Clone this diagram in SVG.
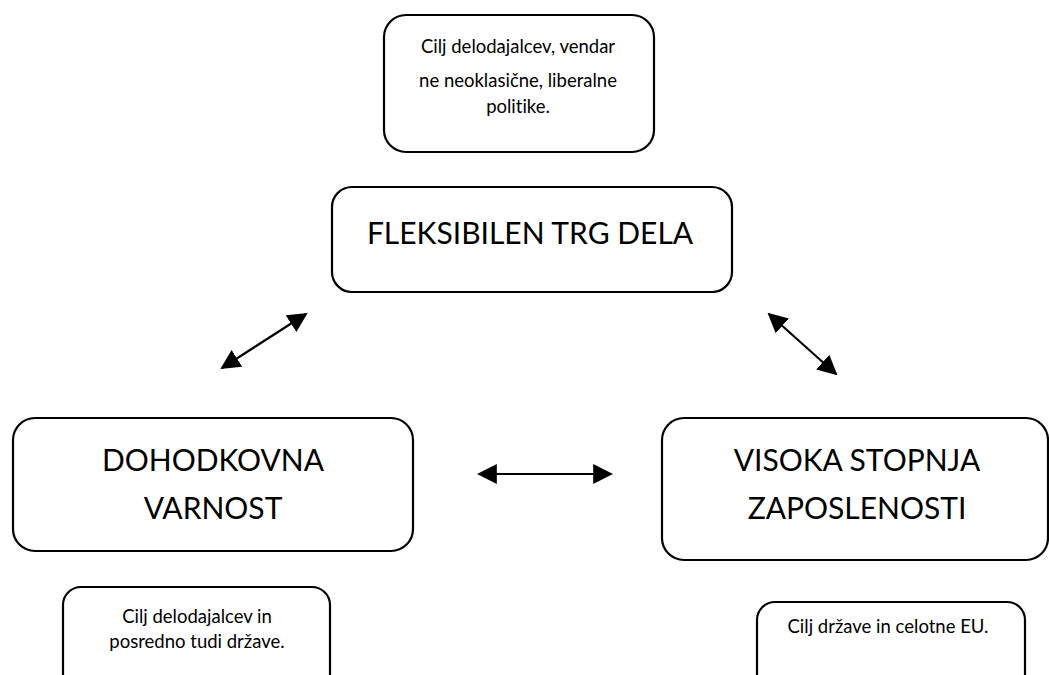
<svg xmlns="http://www.w3.org/2000/svg" width="1049" height="675" viewBox="0 0 1049 675">
<defs>
<style>
.box{fill:#fff;stroke:#000;stroke-width:2.2}
.big{font-family:Lato,"Liberation Sans",sans-serif;font-size:30px;fill:#000;text-anchor:middle;font-variant-ligatures:none}
.small{font-family:Lato,"Liberation Sans",sans-serif;font-size:18.5px;fill:#000;text-anchor:middle;font-variant-ligatures:none}
.conn{stroke:#000;stroke-width:2.2;fill:none;marker-start:url(#ah);marker-end:url(#ah)}
</style>
<marker id="ah" viewBox="0 0 10 10" refX="9" refY="5" markerWidth="9" markerHeight="9" markerUnits="strokeWidth" orient="auto-start-reverse">
<path d="M0,0 L10,5 L0,10 Z" fill="#000"/>
</marker>
</defs>
<rect width="1049" height="675" fill="#fff"/>
<g id="note-top">
<rect class="box" x="384" y="15" width="270" height="137" rx="22"/>
<text class="small" x="518" y="53">Cilj delodajalcev, vendar</text>
<text class="small" x="518" y="87">ne neoklasične, liberalne</text>
<text class="small" x="518" y="113">politike.</text>
</g>
<g id="node-trg">
<rect class="box" x="332" y="187" width="400" height="105" rx="20"/>
<text class="big" x="530" y="244">FLEKSIBILEN TRG DELA</text>
</g>
<g id="node-dohodkovna">
<rect class="box" x="13" y="418" width="400" height="133" rx="22"/>
<text class="big" x="213" y="471">DOHODKOVNA</text>
<text class="big" x="213" y="519">VARNOST</text>
</g>
<g id="node-zaposlenost">
<rect class="box" x="662" y="418" width="386" height="142" rx="22"/>
<text class="big" x="857" y="471">VISOKA STOPNJA</text>
<text class="big" x="857" y="519">ZAPOSLENOSTI</text>
</g>
<g id="note-left">
<rect class="box" x="63" y="587" width="267" height="110" rx="18"/>
<text class="small" x="197" y="623">Cilj delodajalcev in</text>
<text class="small" x="197" y="648">posredno tudi države.</text>
</g>
<g id="note-right">
<rect class="box" x="757" y="602" width="268" height="100" rx="18"/>
<text class="small" x="888" y="633">Cilj države in celotne EU.</text>
</g>
<g id="connectors">
<line class="conn" x1="222" y1="368" x2="306" y2="314"/>
<line class="conn" x1="769" y1="314" x2="836" y2="374"/>
<line class="conn" x1="479" y1="474" x2="611" y2="474"/>
</g>
</svg>
